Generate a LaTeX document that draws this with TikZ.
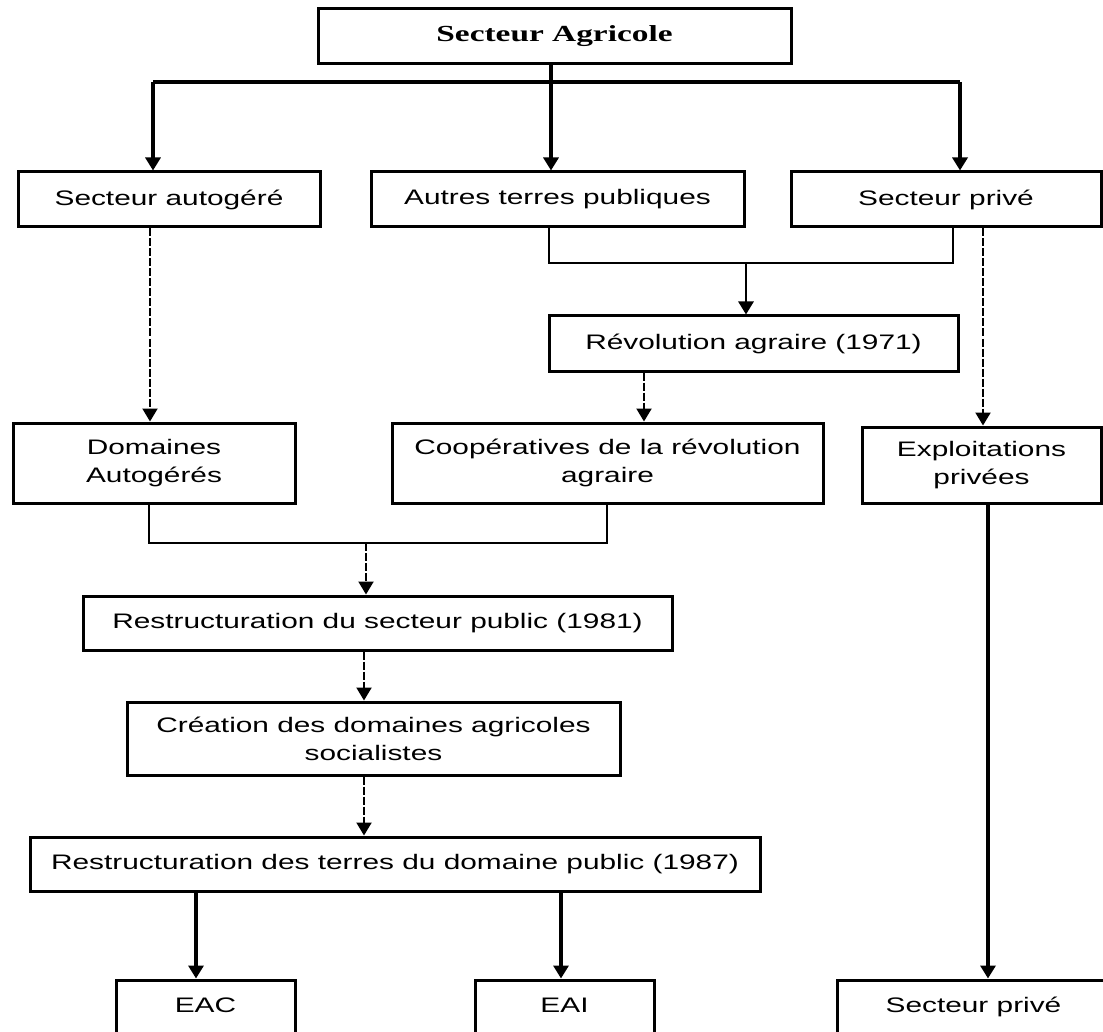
\documentclass[tikz,border=0pt]{standalone}
\usepackage{fontspec}
\setmainfont{Liberation Sans}[FakeStretch=1.42]
\newfontfamily\titlefont{Liberation Serif}[FakeStretch=1.45]
\usetikzlibrary{arrows.meta}
\begin{document}
\begin{tikzpicture}[x=1pt,y=-1pt,
  box/.style={draw, line width=3pt, inner sep=0pt, align=center, font=\fontsize{21}{28}\selectfont},
  conn/.style={line width=2.8pt, line join=miter},
  conn3/.style={line width=3.4pt, line join=miter},
  arr/.style={line width=2.8pt, -{Triangle[length=13pt,width=15pt]}},
  arr3/.style={line width=3.4pt, -{Triangle[length=13pt,width=15pt]}},
  darr/.style={line width=2.2pt, dash pattern=on 8pt off 2pt, -{Triangle[length=13pt,width=15pt]}},
]
\useasboundingbox (0,0) rectangle (1103,1032);
\fill[white] (0,0) rectangle (1103,1032);

% boxes
\node[box, font=\titlefont\fontsize{23}{28}\selectfont\bfseries, minimum width=473pt, minimum height=55pt] (top) at (554.5,36.5) {Secteur Agricole};
\node[box, minimum width=302pt, minimum height=55pt] (A) at (169,199.5) {Secteur autogéré};
\node[box, minimum width=373pt, minimum height=55pt] (B) at (557.5,199.5) {Autres terres publiques};
\node[box, minimum width=310pt, minimum height=55pt] (C) at (946,199.5) {Secteur privé};
\node[box, minimum width=409pt, minimum height=55pt] (rev) at (753.5,343.5) {Révolution agraire (1971)};
\node[box, minimum width=282pt, minimum height=80pt] (dom) at (154,463) {Domaines\\Autogérés};
\node[box, minimum width=431pt, minimum height=80pt] (coop) at (607.5,463) {Coopératives de la révolution\\agraire};
\node[box, minimum width=239pt, minimum height=76pt] (expl) at (981.5,465) {Exploitations\\privées};
\node[box, minimum width=589pt, minimum height=54pt] (r81) at (377.5,623) {Restructuration du secteur public (1981)};
\node[box, minimum width=493pt, minimum height=73pt] (crea) at (373.5,738.5) {Création des domaines agricoles\\socialistes};
\node[box, minimum width=730pt, minimum height=54pt] (r87) at (395,864) {Restructuration des terres du domaine public (1987)};
\node[box, minimum width=179pt, text height=32pt, text depth=30pt] (eac) at (205.5,1011) {EAC};
\node[box, minimum width=179pt, text height=32pt, text depth=30pt] (eai) at (564.5,1011) {EAI};
\node[box, minimum width=273pt, text height=32pt, text depth=30pt] (priv2) at (973.5,1011) {Secteur privé};

% top distribution
\coordinate (j0) at (551,82);
\coordinate (jl) at (153,82);
\coordinate (jr) at (960,82);
\draw[conn3] (top.south -| j0) -- (j0);
\draw[conn3] (jl) -- (jr);
\draw[arr3] (jl) -- (jl |- A.north);
\draw[arr3] (j0) -- (j0 |- B.north);
\draw[arr3] (jr) -- (jr |- C.north);

% B and C merge to revolution
\coordinate (m1) at (549,263);
\coordinate (m2) at (953,263);
\coordinate (m0) at (746,263);
\draw[conn] (B.south -| m1) -- (m1) -- (m2) -- (C.south -| m2);
\draw[arr] (m0) -- (m0 |- rev.north);

% dashed
\coordinate (da) at (150,0);
\coordinate (dc) at (983,0);
\coordinate (dr) at (644,0);
\draw[darr] (A.south -| da) -- (dom.north -| da);
\draw[darr] (C.south -| dc) -- (expl.north -| dc);
\draw[darr] (rev.south -| dr) -- (coop.north -| dr);

% merge dom & coop
\coordinate (n1) at (149,543);
\coordinate (n2) at (607,543);
\coordinate (n0) at (366,543);
\draw[conn] (dom.south -| n1) -- (n1) -- (n2) -- (coop.south -| n2);
\draw[darr] (n0) -- (n0 |- r81.north);
\coordinate (dm) at (364,0);
\draw[darr] (r81.south -| dm) -- (crea.north -| dm);
\draw[darr] (crea.south -| dm) -- (r87.north -| dm);

% bottom
\coordinate (e1) at (196,0);
\coordinate (e2) at (561,0);
\coordinate (ex) at (988,0);
\draw[arr3] (r87.south -| e1) -- (eac.north -| e1);
\draw[arr3] (r87.south -| e2) -- (eai.north -| e2);
\draw[arr3] (expl.south -| ex) -- (priv2.north -| ex);
\end{tikzpicture}
\end{document}
